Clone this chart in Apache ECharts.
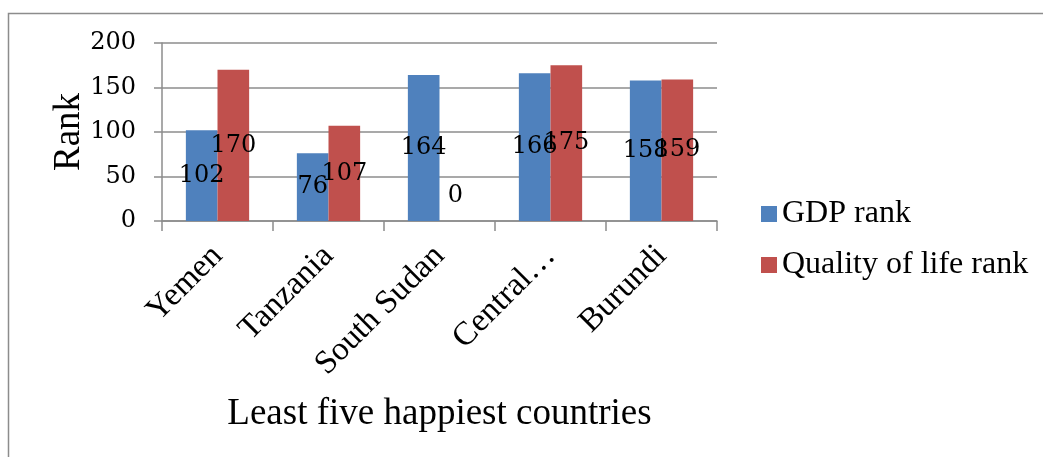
<!DOCTYPE html>
<html>
<head>
<meta charset="utf-8">
<script src="https://cdn.jsdelivr.net/npm/echarts@6/dist/echarts.min.js"></script>
<style>html,body{margin:0;padding:0;background:#fff}#c{width:1043px;height:457px}</style>
</head>
<body>
<div id="c"></div>
<script>
var categories = ['Yemen', 'Tanzania', 'South Sudan', 'Central African Republic', 'Burundi'];
var gdpRank = [102, 76, 164, 166, 158];
var qualityRank = [170, 107, 0, 175, 159];
var yTicks = [0, 50, 100, 150, 200];

var chart = echarts.init(document.getElementById('c'), null, {renderer: 'canvas'});
function toData(arr) {
  return arr.map(function (v) {
    return v === 0 ? {value: v, label: {offset: [0, -25]}} : v;
  });
}
var numFont = 'DejaVu Serif';
var txtFont = 'Liberation Serif';
var labelStyle = {show: true, position: 'inside', color: '#000', fontFamily: numFont, fontSize: 24};
chart.setOption({
  animation: false,
  backgroundColor: '#fff',
  graphic: [{
    type: 'rect', silent: true,
    shape: {x: 8.5, y: 13.5, width: 1100, height: 600},
    style: {fill: 'none', stroke: '#8c8c8c', lineWidth: 1.5}
  }],
  grid: {left: 162, right: 326, top: 43, bottom: 236, containLabel: false},
  legend: {
    orient: 'vertical', left: 761, top: 198, padding: 0,
    itemWidth: 16, itemHeight: 16, itemGap: 19, icon: 'rect',
    textStyle: {fontFamily: txtFont, fontSize: 32, color: '#000', lineHeight: 32},
    data: ['GDP rank', 'Quality of life rank']
  },
  xAxis: {
    type: 'category', data: categories,
    name: 'Least five happiest countries', nameLocation: 'middle', nameGap: 175,
    nameMoveOverlap: false,
    nameTextStyle: {fontFamily: txtFont, fontSize: 37, color: '#000'},
    axisLine: {lineStyle: {color: '#8c8c8c', width: 1.5}},
    axisTick: {show: true, length: 10, alignWithLabel: false, lineStyle: {color: '#8c8c8c', width: 1.5}},
    axisLabel: {
      interval: 0, rotate: 45, margin: 30, color: '#000', fontFamily: txtFont, fontSize: 33,
      formatter: function (v) { return v.length > 12 ? v.split(' ')[0] + '\u2026' : v; }
    },
    splitLine: {show: false}
  },
  yAxis: {
    type: 'value', min: yTicks[0], max: yTicks[yTicks.length - 1], interval: yTicks[1] - yTicks[0],
    name: 'Rank', nameLocation: 'middle', nameGap: 74,
    nameMoveOverlap: false,
    nameTextStyle: {fontFamily: txtFont, fontSize: 37, color: '#000'},
    axisLine: {show: true, lineStyle: {color: '#8c8c8c', width: 1.5}},
    axisTick: {show: true, length: 8, lineStyle: {color: '#8c8c8c', width: 1.5}},
    axisLabel: {color: '#000', fontFamily: numFont, fontSize: 24, margin: 26},
    splitLine: {show: true, lineStyle: {color: '#8c8c8c', width: 1.5}}
  },
  series: [
    {name: 'GDP rank', type: 'bar', data: toData(gdpRank), barGap: '0%', barCategoryGap: '43%',
     itemStyle: {color: '#4F81BD'}, label: labelStyle},
    {name: 'Quality of life rank', type: 'bar', data: toData(qualityRank), barGap: '0%', barCategoryGap: '43%',
     itemStyle: {color: '#C0504D'}, label: labelStyle}
  ]
});
</script>
</body>
</html>
